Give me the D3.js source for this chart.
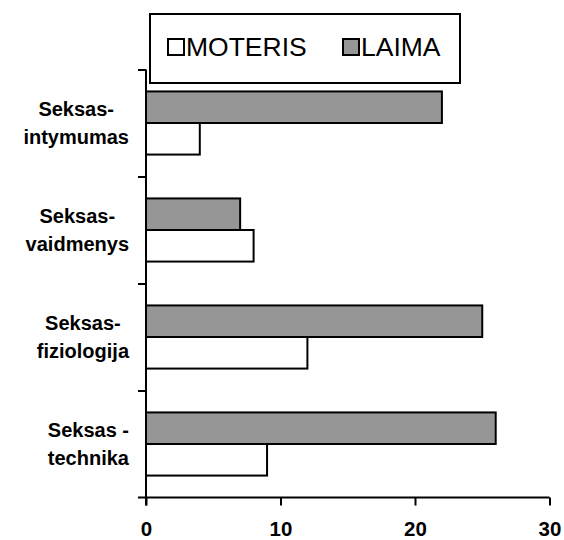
<!DOCTYPE html>
<html><head><meta charset="utf-8">
<script src="https://cdn.jsdelivr.net/npm/d3@7"></script>
<style>body{margin:0;background:#fff}svg{display:block}</style>
</head><body>
<script>
const categories = [["Seksas-","intymumas"],["Seksas-","vaidmenys"],["Seksas-","fiziologija"],["Seksas -","technika"]];
const seriesNames = ["LAIMA","MOTERIS"];
const laima = [22, 7, 25, 26];
const moteris = [4, 8, 12, 9];
const xTicks = [0, 10, 20, 30];
const colors = {LAIMA:"#969696", MOTERIS:"#ffffff"};

const W = 564, H = 540;
const svg = d3.select("body").append("svg").attr("width", W).attr("height", H);
const pL = 146, pR = 549.5, pT = 69.5, pB = 497.5;
const x = d3.scaleLinear().domain([0, 30]).range([pL, pR]);
const keys = categories.map(c => c.join(" "));
const y = d3.scaleBand().domain(keys).range([pT, pB]).paddingInner(0.41).paddingOuter(0.205);
const y1 = d3.scaleBand().domain(seriesNames).range([0, y.bandwidth()]);

const data = seriesNames.map(s => ({s, vals: s === "LAIMA" ? laima : moteris}));
data.forEach(d => {
  svg.append("g").selectAll("rect").data(d.vals).join("rect")
    .attr("x", x(0))
    .attr("y", (v, i) => y(keys[i]) + y1(d.s))
    .attr("width", v => x(v) - x(0))
    .attr("height", y1.bandwidth())
    .attr("fill", colors[d.s])
    .attr("stroke", "#000").attr("stroke-width", 2);
});

// x axis
const xa = svg.append("g").attr("transform", `translate(0,${pB})`)
  .call(d3.axisBottom(x).tickValues(xTicks).tickSize(8).tickPadding(16).tickSizeOuter(0));
xa.select(".domain").attr("stroke-width", 2).attr("d", `M${pL-8},0H${pR}`);
xa.selectAll(".tick line").attr("stroke-width", 2);
xa.selectAll("text").attr("font-family", "Liberation Sans, Arial, sans-serif").attr("font-weight", "bold").attr("font-size", 20.5).attr("fill", "#000");

// y axis (category boundaries ticks)
const yb = d3.scaleLinear().domain([0, 4]).range([pT, pB]);
const ya = svg.append("g").attr("transform", `translate(${pL},0)`)
  .call(d3.axisLeft(yb).tickValues([0,1,2,3]).tickSize(8).tickFormat("").tickSizeOuter(0));
ya.select(".domain").attr("stroke-width", 2).attr("d", `M0,${pT}V${pB+8}`);
ya.selectAll(".tick line").attr("stroke-width", 2);

// category labels: box right-aligned at labelRight, lines centered in box
const labelRight = 129;
categories.forEach((c, i) => {
  const cy = y(keys[i]) + y.bandwidth() / 2;
  const t = svg.append("text").attr("text-anchor", "middle")
    .attr("font-family", "Liberation Sans, Arial, sans-serif").attr("font-weight", "bold")
    .attr("font-size", 20).attr("fill", "#000");
  const s1 = t.append("tspan").attr("y", cy - 14).attr("dy", "0.35em").text(c[0]);
  const s2 = t.append("tspan").attr("y", cy + 14).attr("dy", "0.35em").text(c[1]);
  const w = Math.max(s1.node().getComputedTextLength(), s2.node().getComputedTextLength());
  const cx = labelRight - w / 2;
  s1.attr("x", cx); s2.attr("x", cx);
});

// legend
const lg = svg.append("g");
lg.append("rect").attr("x", 150).attr("y", 14).attr("width", 310).attr("height", 69)
  .attr("fill", "#fff").attr("stroke", "#000").attr("stroke-width", 2);
const legendItems = [{s:"MOTERIS", x:168}, {s:"LAIMA", x:343}];
legendItems.forEach(it => {
  lg.append("rect").attr("x", it.x).attr("y", 39).attr("width", 16).attr("height", 16)
    .attr("fill", colors[it.s]).attr("stroke", "#000").attr("stroke-width", 2);
  lg.append("text").attr("x", it.x + 18).attr("y", 56)
    .attr("font-family", "Liberation Sans, Arial, sans-serif").attr("font-size", 26.5)
    .attr("fill", "#000").text(it.s);
});
</script>
</body></html>
